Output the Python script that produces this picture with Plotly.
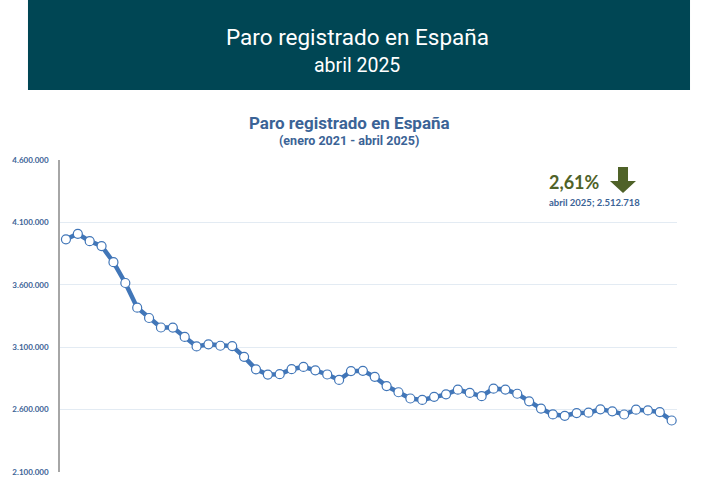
import plotly.graph_objects as go

# Paro registrado, enero 2021 - abril 2025
meses = ["ene", "feb", "mar", "abr", "may", "jun", "jul", "ago", "sep", "oct", "nov", "dic"]
etiquetas = [f"{m} {a}" for a in range(2021, 2026) for m in meses][:52]

paro = [
    3964353, 4008789, 3949640, 3910628, 3781250, 3614339, 3416498, 3333915, 3257802, 3257068, 3182687, 3105905,
    3123078, 3111684, 3108763, 3022503, 2922991, 2880582, 2883812, 2924240, 2941919, 2914892, 2881380, 2837653,
    2908397, 2911015, 2862260, 2788370, 2739110, 2688842, 2677874, 2702700, 2722468, 2759404, 2733584, 2707456,
    2767860, 2760408, 2727003, 2666500, 2607850, 2561067, 2550237, 2572121, 2575285, 2602054, 2586018, 2560718,
    2599443, 2593449, 2580138, 2512718,
]

variacion = "2,61%"
ultimo = "abril 2025; 2.512.718"

AZUL = "#4176b8"
TEXTO = "#3b6396"
VERDE = "#4f6228"

fig = go.Figure()
fig.add_trace(go.Scatter(
    x=list(range(len(paro))), y=paro, text=etiquetas,
    mode="lines+markers",
    line=dict(color=AZUL, width=4.5),
    marker=dict(size=9, color="white", line=dict(color=AZUL, width=1.2)),
    hoverinfo="text+y",
))

# banner
fig.add_shape(type="rect", xref="paper", yref="paper",
              x0=-0.0519, x1=1.0211, y0=1.2244, y1=1.52,
              fillcolor="#004654", line_width=0, layer="below")
# down arrow
fig.add_shape(type="path", xref="paper", yref="paper",
              path="M 0.9044 0.9776 L 0.9206 0.9776 L 0.9206 0.9327 L 0.9335 0.9327 "
                   "L 0.9125 0.8942 L 0.8914 0.9327 L 0.9044 0.9327 Z",
              fillcolor="#4f6228", line_width=0)

textos = [
    ("Paro registrado en España", 0.4814, 1.3942, "center", dict(family="Roboto", size=22.5, color="white")),
    ("abril 2025", 0.4814, 1.3013, "center", dict(family="Roboto", size=19.5, color="white")),
    ("<b>Paro registrado en España</b>", 0.4692, 1.1186, "center", dict(family="Roboto", size=17, color=TEXTO)),
    ("<b>(enero 2021 - abril 2025)</b>", 0.4692, 1.0609, "center", dict(family="Roboto", size=12.5, color=TEXTO)),
    ("<b>" + variacion + "</b>", 0.7893, 0.9295, "left", dict(family="Lato", size=18, color=VERDE)),
    ("<b>" + ultimo + "</b>", 0.7893, 0.8622, "left", dict(family="Lato", size=9.5, color=TEXTO)),
]
for t, x, y, xa, f in textos:
    fig.add_annotation(text=t, xref="paper", yref="paper", x=x, y=y, showarrow=False,
                       xanchor=xa, yanchor="middle", font=f)

fig.update_layout(
    width=709, height=486,
    margin=dict(l=60, r=32, t=160, b=14, autoexpand=False),
    paper_bgcolor="white", plot_bgcolor="white",
    separators=",.",
    showlegend=False,
    xaxis=dict(range=[-0.5, 51.45], showticklabels=False, showgrid=False,
               zeroline=False, showline=False, ticks="", automargin=False),
    yaxis=dict(range=[2100000, 4600000], tick0=2100000, dtick=500000, tickformat=",d",
               showgrid=True, gridcolor="#e3ebf3", gridwidth=1.3,
               showline=True, linecolor="#a6a6a6", linewidth=1.5,
               zeroline=False, ticks="", ticklabelstandoff=8, automargin=False,
               tickfont=dict(family="Lato", size=8, color=TEXTO, weight="bold")),
)

# page body has an 8px default margin; drop it so the figure sits at 0,0
fig.write_html("out.html", config={"displayModeBar": False},
               post_script="document.body.style.margin='0';")
